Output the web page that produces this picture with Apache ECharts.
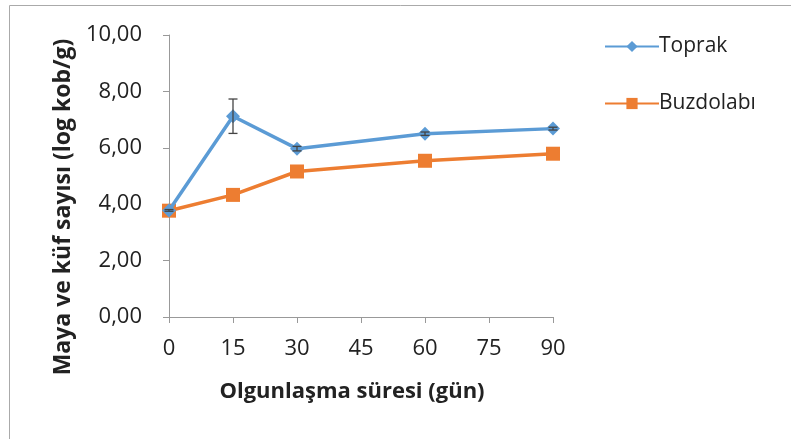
<!DOCTYPE html>
<html>
<head>
<meta charset="utf-8">
<script src="https://cdn.jsdelivr.net/npm/echarts@6/dist/echarts.min.js"></script>
<style>
  html, body { margin: 0; padding: 0; background: #fff; }
  #chart { width: 791px; height: 439px; }
</style>
</head>
<body>
<div id="chart"></div>
<script>
var days = [0, 15, 30, 60, 90];
var toprak = [3.78, 7.12, 5.97, 6.50, 6.68];
var toprakErr = [0.03, 0.61, 0.08, 0.06, 0.05];
var buzdolabi = [3.77, 4.33, 5.16, 5.54, 5.79];
var yTicks = [0, 2, 4, 6, 8, 10];

var font = '"Open Sans", Lato, sans-serif';

function pairs(xs, ys) {
    return xs.map(function (x, i) { return [x, ys[i]]; });
}

var errData = days.map(function (d, i) {
    return [d, toprak[i] - toprakErr[i], toprak[i] + toprakErr[i]];
});

var option = {
    animation: false,
    backgroundColor: '#fff',
    textStyle: { fontFamily: font },
    graphic: [
        { type: 'line', shape: { x1: 9.5, y1: 5.5, x2: 9.5, y2: 439 }, style: { stroke: '#aaa', lineWidth: 1 } },
        { type: 'line', shape: { x1: 9.5, y1: 5.5, x2: 791, y2: 5.5 }, style: { stroke: '#aaa', lineWidth: 1 } }
    ],
    grid: { left: 169, top: 35, width: 384, height: 282 },
    legend: {
        orient: 'vertical',
        left: 599,
        top: 31,
        itemGap: 36,
        itemWidth: 54,
        itemHeight: 14,
        textStyle: { fontFamily: font, fontSize: 21, color: '#222', padding: [0, 0, 0, -5] },
        data: ['Toprak', 'Buzdolabı']
    },
    xAxis: {
        type: 'value',
        min: 0, max: 90, interval: 15,
        name: 'Olgunlaşma süresi (gün)',
        nameLocation: 'middle',
        nameGap: 64,
        nameTextStyle: { fontFamily: font, fontSize: 22, fontWeight: 'bold', color: '#222', padding: [0, 18, 0, 0] },
        axisLine: { lineStyle: { color: '#999' } },
        axisTick: { length: 6, lineStyle: { color: '#999' } },
        axisLabel: { fontSize: 22, color: '#222', margin: 21 },
        splitLine: { show: false }
    },
    yAxis: {
        type: 'value',
        min: 0, max: 10, interval: 2,
        name: 'Maya ve küf sayısı (log kob/g)',
        nameLocation: 'middle',
        nameGap: 94,
        nameTextStyle: { fontFamily: font, fontSize: 23, fontWeight: 'bold', color: '#222', padding: [0, 62, 0, 0] },
        axisLine: { show: true, lineStyle: { color: '#999' } },
        axisTick: { show: true, length: 6, lineStyle: { color: '#999' } },
        axisLabel: {
            fontSize: 22, color: '#222', margin: 27,
            formatter: function (v) { return yTicks.indexOf(v) >= 0 ? v.toFixed(2).replace('.', ',') : ''; }
        },
        splitLine: { show: false }
    },
    series: [
        {
            name: 'Buzdolabı',
            type: 'line',
            data: pairs(days, buzdolabi),
            symbol: 'rect',
            symbolSize: 14,
            lineStyle: { color: '#ed7d31', width: 3.5 },
            itemStyle: { color: '#ed7d31' },
            z: 3
        },
        {
            name: 'Toprak',
            type: 'line',
            data: pairs(days, toprak),
            symbol: 'diamond',
            symbolSize: 14,
            lineStyle: { color: '#5b9bd5', width: 3.5 },
            itemStyle: { color: '#5b9bd5' },
            z: 4
        },
        {
            name: 'err',
            type: 'custom',
            z: 5,
            data: errData,
            renderItem: function (params, api) {
                var x = api.value(0);
                var lo = api.coord([x, api.value(1)]);
                var hi = api.coord([x, api.value(2)]);
                var w = 4.5;
                var st = { stroke: '#444', lineWidth: 1.3 };
                return {
                    type: 'group',
                    children: [
                        { type: 'line', shape: { x1: lo[0], y1: lo[1], x2: hi[0], y2: hi[1] }, style: st },
                        { type: 'line', shape: { x1: lo[0] - w, y1: lo[1], x2: lo[0] + w, y2: lo[1] }, style: st },
                        { type: 'line', shape: { x1: hi[0] - w, y1: hi[1], x2: hi[0] + w, y2: hi[1] }, style: st }
                    ]
                };
            }
        }
    ]
};

var chart = echarts.init(document.getElementById('chart'));
chart.setOption(option);
</script>
</body>
</html>
